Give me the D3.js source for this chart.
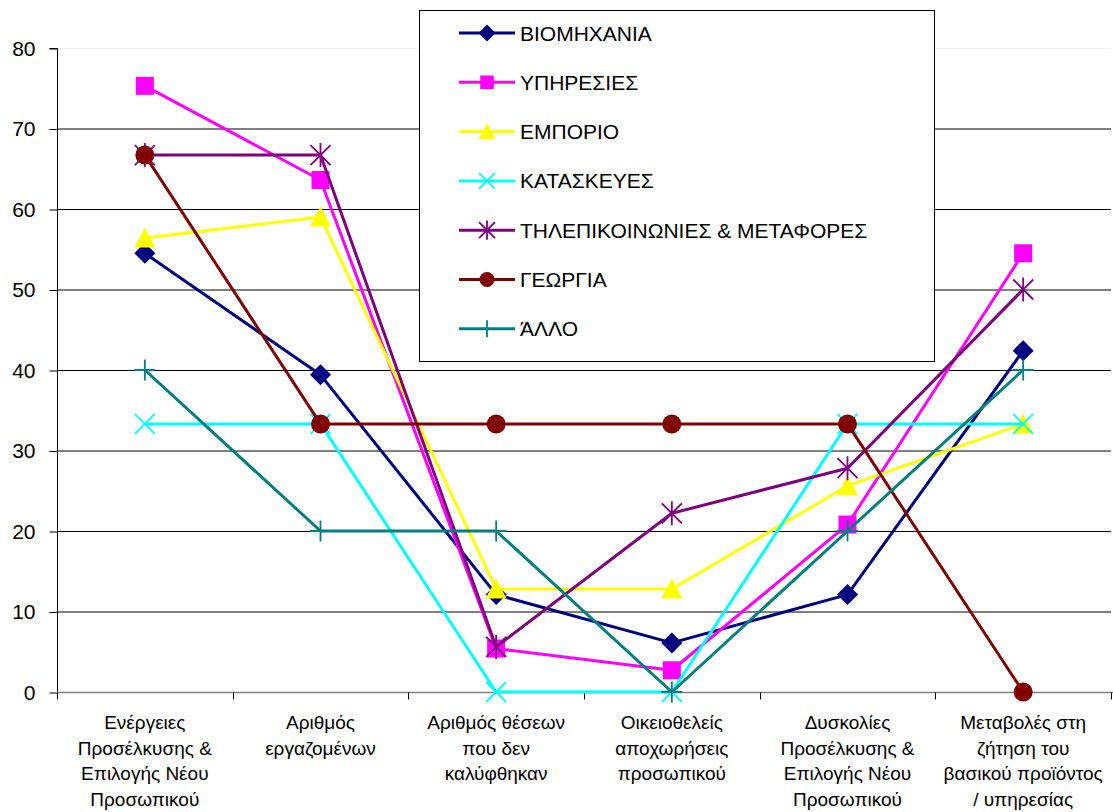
<!DOCTYPE html>
<html><head><meta charset="utf-8">
<script src="https://cdn.jsdelivr.net/npm/d3@7"></script>
<style>
html,body{margin:0;padding:0;background:#fff;}
svg{display:block;font-family:"Liberation Sans",Arial,sans-serif;}
</style></head>
<body><svg id="c" width="1113" height="812"></svg>
<script>
const categories = [
  ["Ενέργειες","Προσέλκυσης &","Επιλογής Νέου","Προσωπικού"],
  ["Αριθμός","εργαζομένων"],
  ["Αριθμός θέσεων","που δεν","καλύφθηκαν"],
  ["Οικειοθελείς","αποχωρήσεις","προσωπικού"],
  ["Δυσκολίες","Προσέλκυσης &","Επιλογής Νέου","Προσωπικού"],
  ["Μεταβολές στη","ζήτηση του","βασικού προϊόντος","/ υπηρεσίας"]
];
const seriesNames = ["ΒΙΟΜΗΧΑΝΙΑ","ΥΠΗΡΕΣΙΕΣ","ΕΜΠΟΡΙΟ","ΚΑΤΑΣΚΕΥΕΣ","ΤΗΛΕΠΙΚΟΙΝΩΝΙΕΣ & ΜΕΤΑΦΟΡΕΣ","ΓΕΩΡΓΙΑ","ΆΛΛΟ"];
const viomichania = [54.5, 39.4, 12.1, 6.1, 12.1, 42.4];
const ypiresies   = [75.3, 63.6, 5.4, 2.7, 20.8, 54.5];
const emporio     = [56.4, 59.0, 12.8, 12.8, 25.6, 33.3];
const kataskeves  = [33.3, 33.3, 0, 0, 33.3, 33.3];
const tilepik     = [66.7, 66.7, 5.6, 22.2, 27.8, 50.0];
const georgia     = [66.7, 33.3, 33.3, 33.3, 33.3, 0];
const allo        = [40, 20, 20, 0, 20, 40];
const yTicks = [0,10,20,30,40,50,60,70,80];

const seriesValues = [viomichania, ypiresies, emporio, kataskeves, tilepik, georgia, allo];
const colors = ["#000080","#ff00ff","#ffff00","#00ffff","#800080","#800000","#008080"];
const markers = ["diamond","square","triangle","x","star","circle","plus"];

const svg = d3.select("#c");
const L = 57, R = 1111, T = 48, B = 692;
const x = d3.scaleBand().domain(d3.range(categories.length)).range([L, R]).paddingInner(0).paddingOuter(0);
const y = d3.scaleLinear().domain([0, 80]).range([B, T]);

// gridlines
svg.append("g").selectAll("line").data(yTicks.filter(d => d > 0)).join("line")
  .attr("x1", L).attr("x2", R).attr("y1", d => y(d) + 0.5).attr("y2", d => y(d) + 0.5)
  .attr("stroke", d => d === 80 ? "#f0f0f0" : "#000").attr("stroke-width", 1);

// y axis
const yAxis = d3.axisLeft(y).tickValues(yTicks).tickSize(8).tickPadding(14);
const gy = svg.append("g").attr("transform", `translate(${L + 0.5},0.5)`).call(yAxis);
gy.select(".domain").attr("stroke", "#000").attr("d", `M-8,${T}H0V${B}`);
gy.selectAll(".tick line").attr("stroke", "#000");
gy.selectAll("text").attr("font-size", 21).attr("fill", "#000")
  .attr("font-family", "Liberation Sans, Arial, sans-serif");

// x axis
const gx = svg.append("g").attr("transform", `translate(0,${B + 0.5})`);
gx.append("line").attr("x1", L).attr("x2", R + 2).attr("y1", 0).attr("y2", 0).attr("stroke", "#808080").attr("stroke-width", 1.5);
const bounds = d3.range(categories.length + 1).map(i => i < categories.length ? x(i) : x(i - 1) + x.bandwidth());
gx.selectAll("line.tk").data(bounds).join("line").attr("class", "tk")
  .attr("x1", d => Math.round(d) + 0.5).attr("x2", d => Math.round(d) + 0.5).attr("y1", 0).attr("y2", 7)
  .attr("stroke", "#000");
const lab = svg.append("g");
categories.forEach((lines, i) => {
  const t = lab.append("text").attr("text-anchor", "middle").attr("font-size", 19)
    .attr("font-family", "Liberation Sans, Arial, sans-serif").attr("fill", "#000");
  lines.forEach((ln, j) => {
    t.append("tspan").attr("x", x(i) + x.bandwidth() / 2).attr("y", 729 + j * 25.7).text(ln);
  });
});

function markerPath(type, s) {
  switch (type) {
    case "diamond": return `M0,${-s}L${s},0L0,${s}L${-s},0Z`;
    case "square": return `M${-s*0.85},${-s*0.85}h${s*1.7}v${s*1.7}h${-s*1.7}Z`;
    case "triangle": return `M0,${-s}L${s},${s*0.9}L${-s},${s*0.9}Z`;
    case "x": return `M${-s},${-s}L${s},${s}M${-s},${s}L${s},${-s}`;
    case "star": return `M${-s},${-s}L${s},${s}M${-s},${s}L${s},${-s}M0,${-s*1.2}V${s*1.2}`;
    case "plus": return `M${-s},0H${s}M0,${-s}V${s}`;
    case "circle": return d3.symbol(d3.symbolCircle, Math.PI * s * s)();
  }
}
const filled = t => ["diamond","square","triangle","circle"].includes(t);
const plotSize = {diamond: 10.5, square: 10.6, triangle: 10.5, x: 10, star: 10, circle: 9.5, plus: 10.5};
const legSize = {diamond: 8.5, square: 8, triangle: 8.5, x: 8, star: 8, circle: 7.5, plus: 8.5};

const line = d3.line().x((d, i) => x(i) + x.bandwidth() / 2).y(d => y(d));
const plot = svg.append("g");
seriesValues.forEach((vals, k) => {
  plot.append("path").datum(vals).attr("d", line).attr("fill", "none")
    .attr("stroke", colors[k]).attr("stroke-width", 3).attr("stroke-linejoin", "round");
  plot.append("g").selectAll("path").data(vals).join("path")
    .attr("transform", (d, i) => `translate(${x(i) + x.bandwidth() / 2},${y(d)})`)
    .attr("d", markerPath(markers[k], plotSize[markers[k]]))
    .attr("fill", filled(markers[k]) ? colors[k] : "none")
    .attr("stroke", colors[k]).attr("stroke-width", filled(markers[k]) ? 0 : 1.8);
});

// legend
const lg = svg.append("g");
lg.append("rect").attr("x", 419.5).attr("y", 10.5).attr("width", 515).attr("height", 351)
  .attr("fill", "#fff").attr("stroke", "#000").attr("stroke-width", 1);
seriesNames.forEach((n, k) => {
  const cy = 33 + k * 49.3;
  lg.append("line").attr("x1", 459).attr("x2", 515).attr("y1", cy).attr("y2", cy)
    .attr("stroke", colors[k]).attr("stroke-width", 3);
  lg.append("path").attr("transform", `translate(487,${cy})`).attr("d", markerPath(markers[k], legSize[markers[k]]))
    .attr("fill", filled(markers[k]) ? colors[k] : "none")
    .attr("stroke", colors[k]).attr("stroke-width", filled(markers[k]) ? 0 : 1.8);
  lg.append("text").attr("x", 520).attr("y", cy + 7.5).attr("font-size", 21).attr("fill", "#000").text(n);
});
</script></body></html>
